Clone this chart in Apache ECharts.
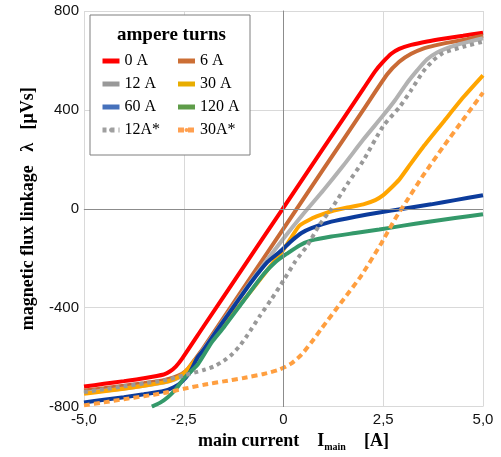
<!DOCTYPE html>
<html lang="en">
<head>
    <meta charset="UTF-8">
    <title>flux linkage</title>
    <script src="https://cdn.jsdelivr.net/npm/echarts@6/dist/echarts.min.js"></script>
    <style>
        body { margin: 0; padding: 0; overflow: hidden; }
        #chart { width: 501px; height: 457px; }
    </style>
</head>
<body>
<div id="chart"></div>
<script>
    // tick labels (decimal comma as in the original)
    const xTicks = [-5, -2.5, 0, 2.5, 5];
    const xTickText = ['-5,0', '-2,5', '0', '2,5', '5,0'];

    // ampere turns, legend order
    const names = ['0 A', '6 A', '12 A', '30 A', '60 A', '120 A', '12A*', '30A*'];

    // [main current A, flux linkage uVs]
    const a0 = [[-5,-719],[-4.5,-708],[-4,-697],[-3.5,-685],[-3,-670],[-2.85,-658],[-2.7,-638],[-2.55,-608],
        [-2,-475],[-1,-235],[0,5],[1,245],[2,485],[2.3,557],[2.5,595],[2.7,627],[2.9,647],[3.2,663],
        [3.6,677],[4,688],[4.5,700],[5,712]];
    const a6 = [[-5,-735],[-4.5,-726],[-4,-716],[-3.5,-705],[-3,-693],[-2.75,-682],[-2.55,-668],[-2.4,-648],
        [-2.2,-605],[-2,-560],[-1,-320],[0,-80],[1,160],[2,400],[2.6,544],[2.9,595],[3.2,627],[3.5,648],
        [3.8,661],[4.2,674],[4.6,686],[5,700]];
    const a12 = [[-5,-745],[-4.5,-736],[-4,-727],[-3.5,-716],[-3,-703],[-2.75,-692],[-2.55,-677],[-2.4,-655],
        [-2.2,-612],[-2,-567],[-1.5,-450],[-1,-335],[-0.5,-225],[0,-120],[0.5,-20],[1,75],[1.5,175],
        [2,280],[2.5,378],[2.8,440],[3.1,510],[3.35,560],[3.6,605],[3.85,632],[4.1,650],[4.35,663],
        [4.7,678],[5,690]];
    const a30 = [[-5,-748],[-4.5,-738],[-4,-728],[-3.5,-716],[-3,-702],[-2.75,-690],[-2.55,-672],[-2.4,-648],
        [-2.2,-610],[-2,-572],[-1.5,-470],[-1,-370],[-0.5,-268],[-0.2,-205],[0,-165],[0.2,-115],
        [0.4,-68],[0.7,-40],[0.9,-27],[1.2,-10],[1.6,5],[2,18],[2.3,35],[2.5,55],[2.7,85],[2.9,118],
        [3.2,185],[3.5,250],[4,350],[4.5,450],[5,540]];
    const a60 = [[-5,-783],[-4.5,-772],[-4,-762],[-3.5,-750],[-3,-737],[-2.75,-722],[-2.55,-700],[-2.35,-662],
        [-2.15,-600],[-2,-570],[-1.66,-490],[-1.2,-385],[-0.8,-295],[-0.4,-215],[-0.1,-175],[0.2,-130],
        [0.45,-98],[0.7,-78],[1.2,-52],[1.8,-32],[2.4,-15],[3,0],[3.7,18],[4.3,35],[5,55]];
    const a120 = [[-3.3,-800],[-3.1,-785],[-2.9,-762],[-2.7,-730],[-2.5,-687],[-2.15,-630],[-1.8,-540],
        [-1.5,-480],[-1,-372],[-0.5,-265],[-0.2,-215],[0.1,-180],[0.4,-148],[0.7,-128],[1.2,-112],
        [1.8,-98],[2.4,-84],[3,-68],[3.6,-53],[4.3,-37],[5,-22]];
    const a12s = [[-5,-741],[-4.5,-730],[-4,-718],[-3.5,-706],[-3,-694],[-2.5,-674],[-2,-652],[-1.75,-638],
        [-1.5,-615],[-1.3,-590],[-1.1,-555],[-0.9,-510],[-0.6,-435],[-0.3,-365],[0,-290],[0.3,-212],
        [0.6,-148],[0.9,-65],[1.2,0],[1.6,100],[2,195],[2.5,335],[2.9,410],[3.2,480],[3.5,555],
        [3.75,600],[4,630],[4.5,655],[5,676]];
    const a30s = [[-5,-795],[-4.5,-783],[-4,-770],[-3.5,-758],[-3,-745],[-2.5,-728],[-2,-712],[-1.5,-698],
        [-1,-684],[-0.5,-668],[-0.1,-650],[0.2,-625],[0.45,-590],[0.7,-540],[0.95,-485],[1.45,-378],
        [1.95,-270],[2.45,-140],[2.8,-40],[3.1,35],[3.5,135],[4,250],[4.5,360],[5,470]];

    const curves = [a0, a6, a12, a30, a60, a120, a12s, a30s];
    const colors = ['#ff0000', '#c96a35', '#b2b2b2', '#ffa500', '#0c3c9c', '#34996a', '#999999', '#ff9f40'];
    // swatches in the legend box are drawn a bit differently from the lines
    const legendColors = ['#ff0000', '#cc6f35', '#999999', '#e8ad00', '#4671bb', '#5e9c49', '#a0a0a0', '#ffa050'];
    const dashes = ['solid', 'solid', 'solid', 'solid', 'solid', 'solid', [4, 4], [6, 4]];

    const serif = '"Liberation Serif", "DejaVu Serif", serif';
    const sans = '"Liberation Sans", Arial, sans-serif';

    const chart = echarts.init(document.getElementById('chart'));

    const series = [{
        // zero lines
        type: 'line',
        data: [],
        silent: true,
        markLine: {
            silent: true,
            symbol: ['none', 'none'],
            label: { show: false },
            lineStyle: { color: '#8c8c8c', width: 1, type: 'solid' },
            data: [{ xAxis: 0 }, { yAxis: 0 }]
        }
    }];
    curves.forEach(function (d, i) {
        series.push({
            name: names[i],
            type: 'line',
            data: d,
            symbol: 'none',
            smooth: 0.2,
            color: colors[i],
            lineStyle: { width: 4, type: dashes[i], cap: 'butt' }
        });
    });

    chart.setOption({
        animation: false,
        backgroundColor: '#fff',
        title: {
            text: 'ampere turns',
            left: 112,
            top: 21,
            textStyle: { fontFamily: serif, fontSize: 19, fontWeight: 'bold', color: '#000' }
        },
        legend: {
            data: names.map(function (n, i) {
                return {
                    name: n,
                    itemStyle: { color: legendColors[i] },
                    lineStyle: { color: legendColors[i] }
                };
            }),
            left: 90,
            top: 15,
            width: 150,
            padding: [37, 4, 16, 10],
            itemGap: 5,
            itemWidth: 17,
            itemHeight: 5,
            borderColor: '#7f7f7f',
            borderWidth: 1,
            backgroundColor: '#fff',
            lineStyle: { width: 5 },
            textStyle: { fontFamily: serif, fontSize: 16, color: '#000', width: 46, lineHeight: 18 }
        },
        grid: { left: 84, right: 18, top: 11, bottom: 49 },
        xAxis: {
            type: 'value',
            min: -5, max: 5, interval: 2.5,
            axisLine: { show: true, lineStyle: { color: '#d9d9d9' } },
            axisTick: { show: false },
            splitLine: { show: true, lineStyle: { color: '#d9d9d9' } },
            axisLabel: {
                fontFamily: sans, fontSize: 15, color: '#111', margin: 6,
                formatter: function (v) { return xTickText[xTicks.indexOf(v)]; }
            },
            name: 'main current    I{sub|main}    [A]',
            nameLocation: 'middle',
            nameGap: 21,
            nameTextStyle: {
                fontFamily: serif, fontSize: 18, fontWeight: 'bold', color: '#000',
                padding: [0, 0, 0, 20],
                rich: { sub: { fontFamily: serif, fontSize: 10, fontWeight: 'bold', padding: [11, 0, 0, 0] } }
            }
        },
        yAxis: {
            type: 'value',
            min: -800, max: 800, interval: 400,
            axisLine: { show: true, lineStyle: { color: '#808080' } },
            axisTick: { show: false },
            splitLine: { show: true, lineStyle: { color: '#d9d9d9' } },
            axisLabel: { fontFamily: sans, fontSize: 15, color: '#111', margin: 5 },
            name: 'magnetic flux linkage   λ   [μVs]',
            nameLocation: 'middle',
            nameGap: 47,
            nameTextStyle: { fontFamily: serif, fontSize: 18, fontWeight: 'bold', color: '#000' }
        },
        series: series
    });
</script>
</body>
</html>
